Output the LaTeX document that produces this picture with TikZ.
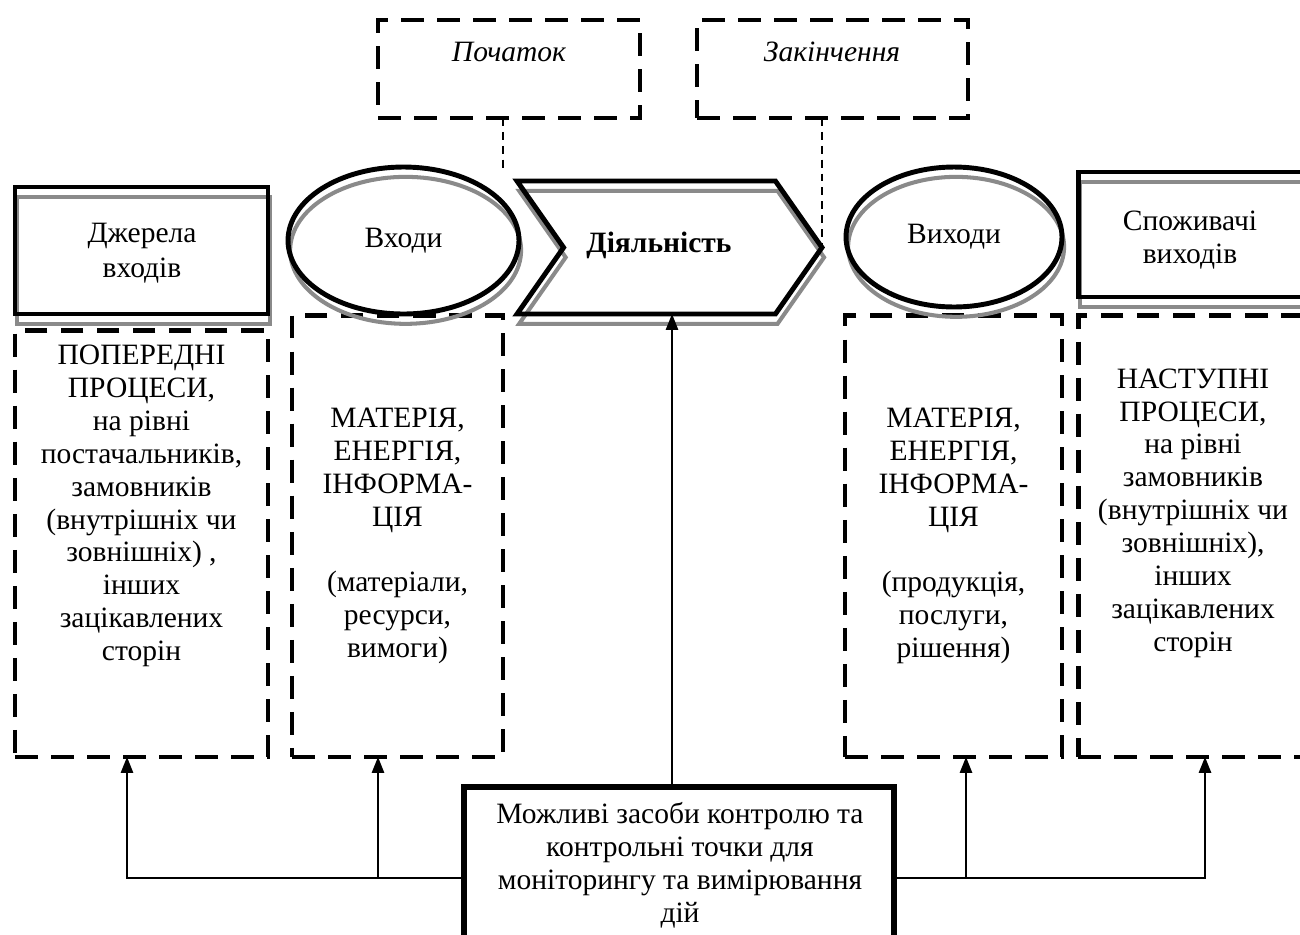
\documentclass[tikz,border=0pt]{standalone}
\usepackage{fontspec}
\setmainfont{Liberation Serif}
\usetikzlibrary{shapes.geometric,shapes.symbols,shadows,arrows.meta}
\definecolor{shadowgray}{HTML}{8A8A8A}

\begin{document}
\begin{tikzpicture}[x=0.02cm,y=-0.02cm,
  every node/.style={inner sep=0pt, outer sep=0pt, align=center,
    font=\fontsize{16.8}{18.7}\selectfont},
  grayshadow/.style={general shadow={draw=shadowgray, line width=2.3pt,
    shadow xshift=1.2pt, shadow yshift=-5.6pt}},
  solidshape/.style={draw, line width=2.8pt, grayshadow},
  dashbox/.style={draw, line width=2.8pt, dash pattern=on 13pt off 7.5pt},
  thindash/.style={line width=0.75pt, dash pattern=on 4.5pt off 3.4pt},
  arr/.style={line width=0.85pt, -{Triangle[width=7pt,length=9pt]}},
]
\useasboundingbox (0,0) rectangle (1300,934);
\clip (0,0) rectangle (1300,934);

% start / finish markers
\node[dashbox, minimum width=5.24cm, minimum height=1.96cm] (start) at (509,69) {};
\node[font=\fontsize{16.8}{18.7}\selectfont\itshape] (starttxt) at (509,52) {Початок};
\node[dashbox, minimum width=5.42cm, minimum height=1.96cm] (finish) at (832.5,69) {};
\node[font=\fontsize{16.8}{18.7}\selectfont\itshape] (finishtxt) at (832,52) {Закінчення};

% dashed detail boxes
\node[dashbox, minimum width=5.06cm, minimum height=8.54cm] (prev) at (141.5,543.5) {};
\node (prevtxt) at (141.5,506) {ПОПЕРЕДНІ\\ПРОЦЕСИ,\\на рівні\\постачальників,\\замовників\\(внутрішніх чи\\зовнішніх) ,\\інших\\зацікавлених\\сторін};
\node[dashbox, minimum width=4.22cm, minimum height=8.84cm] (inbox) at (397.5,536)
  {МАТЕРІЯ,\\ЕНЕРГІЯ,\\ІНФОРМА-\\ЦІЯ\\[18.7pt](матеріали,\\ресурси,\\вимоги)};
\node[dashbox, minimum width=4.34cm, minimum height=8.84cm] (outbox) at (953.5,536)
  {МАТЕРІЯ,\\ЕНЕРГІЯ,\\ІНФОРМА-\\ЦІЯ\\[18.7pt](продукція,\\послуги,\\рішення)};
\node[dashbox, minimum width=4.68cm, minimum height=8.84cm] (nextbox) at (1195,536) {};
\node (nexttxt) at (1193,513) {НАСТУПНІ\\ПРОЦЕСИ,\\на рівні\\замовників\\(внутрішніх чи\\зовнішніх),\\інших\\зацікавлених\\сторін};

% main chain
\node[solidshape, minimum width=5.06cm, minimum height=2.54cm] (src) at (141.5,250.5) {};
\node[font=\fontsize{16.8}{20}\selectfont] (srctxt) at (142,253) {Джерела\\входів};
\node[solidshape, ellipse, minimum width=4.62cm, minimum height=2.94cm] (inp) at (403.5,240.5) {Входи};
\node[solidshape, signal, signal from=west, signal to=east, signal pointer angle=110,
  minimum width=6.1cm, minimum height=2.66cm] (act) at (669.5,247.5) {};
\node[font=\fontsize{16.8}{18.7}\selectfont\bfseries] (acttxt) at (659,245) {Діяльність};
\node[solidshape, ellipse, minimum width=4.32cm, minimum height=2.8cm] (outp) at (954,237) {Виходи};
\node[solidshape, minimum width=4.68cm, minimum height=2.5cm] (cons) at (1195,234.5) {};
\node (constxt) at (1190,240) {Споживачі\\виходів};

% control box
\node[draw, line width=3.3pt, minimum width=8.6cm, minimum height=3.64cm] (ctrl) at (679,878) {};
\node (ctrltxt) at (680,865) {Можливі засоби контролю та\\контрольні точки для\\моніторингу та вимірювання\\дій};

% thin dashed leaders
\coordinate (startend) at (503,168);
\draw[thindash] (start.south -| startend) -- (startend);
\draw[thindash] (act.east |- finish.south) -- (act.east);

% control arrows
\coordinate (t0) at ([xshift=-0.14cm]ctrl.north);
\coordinate (t1) at ([xshift=-0.29cm]prev.south);
\coordinate (t2) at ([xshift=-0.39cm]inbox.south);
\coordinate (t3) at ([xshift=0.25cm]outbox.south);
\coordinate (t4) at ([xshift=0.2cm]nextbox.south);
\draw[arr] (ctrl.west) -| (t1);
\draw[arr] (ctrl.west -| t2) -- (t2);
\draw[arr] (ctrl.east) -| (t4);
\draw[arr] (ctrl.east -| t3) -- (t3);
\draw[arr] (t0) -- (t0 |- act.south);
\end{tikzpicture}
\end{document}
